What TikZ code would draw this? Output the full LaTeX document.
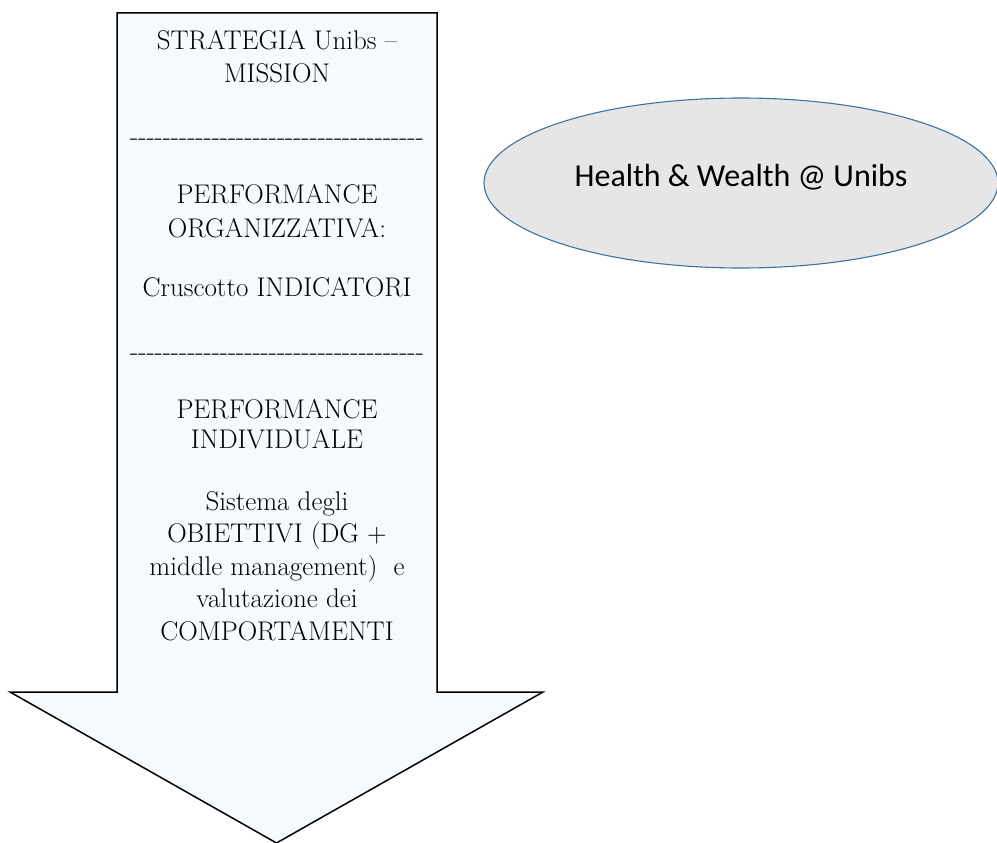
\documentclass[tikz,border=0pt]{standalone}
\usepackage{fontspec}
\usepackage{xcolor}
\usepackage{tikz}
\usetikzlibrary{shapes.geometric, positioning}
\newfontfamily\calibrifont{Carlito}
\definecolor{arrowfill}{RGB}{246,250,252}
\definecolor{ovalfill}{RGB}{230,230,230}
\definecolor{ovaldraw}{RGB}{65,113,156}
\newcommand{\seprow}{\foreach \k in {1,...,36}{\mbox{-}}}

\begin{document}
\begin{tikzpicture}[
    x=1pt, y=-1pt,
    bigarrow/.style={draw=black, line width=1.5pt, fill=arrowfill, line join=miter},
    blocktext/.style={anchor=base, align=center, inner sep=0pt, font={\fontsize{27}{33}\selectfont}},
    oval/.style={ellipse, draw=ovaldraw, line width=1.1pt, fill=ovalfill, minimum width=514pt, minimum height=170pt,
        text height=15pt, text depth=9pt, font={\calibrifont\fontsize{32}{38}\selectfont}}
]
\useasboundingbox (0,0) rectangle (997,843);

% Big downward arrow
\draw[bigarrow] (117,13) -- (437,13) -- (437,692) -- (543,692) -- (276.5,843)
    -- (10,692) -- (117,692) -- cycle;

% Strategy block
\node[blocktext] (strat) at (277,83) {STRATEGIA Unibs --\\MISSION};
\node[blocktext] (sep1) at (277,146) {\seprow};

% Organisational performance block
\node[blocktext, font={\fontsize{27}{34}\selectfont}] (perforg) at (277,237) {PERFORMANCE\\ORGANIZZATIVA:};
\node[blocktext] (crusc) at (277,296) {Cruscotto INDICATORI};
\node[blocktext] (sep2) at (277,360) {\seprow};

% Individual performance block
\node[blocktext, font={\fontsize{27}{30}\selectfont}] (perfind) at (277,448) {PERFORMANCE\\INDIVIDUALE};
\node[blocktext, font={\fontsize{27}{32.5}\selectfont}] (obiett) at (277,640)
    {Sistema degli\\OBIETTIVI (DG +\\middle management)~ e\\valutazione dei\\COMPORTAMENTI};

% Oval on the right
\node[oval] (health) at (741,183) {Health \& Wealth @ Unibs};

\end{tikzpicture}
\end{document}
